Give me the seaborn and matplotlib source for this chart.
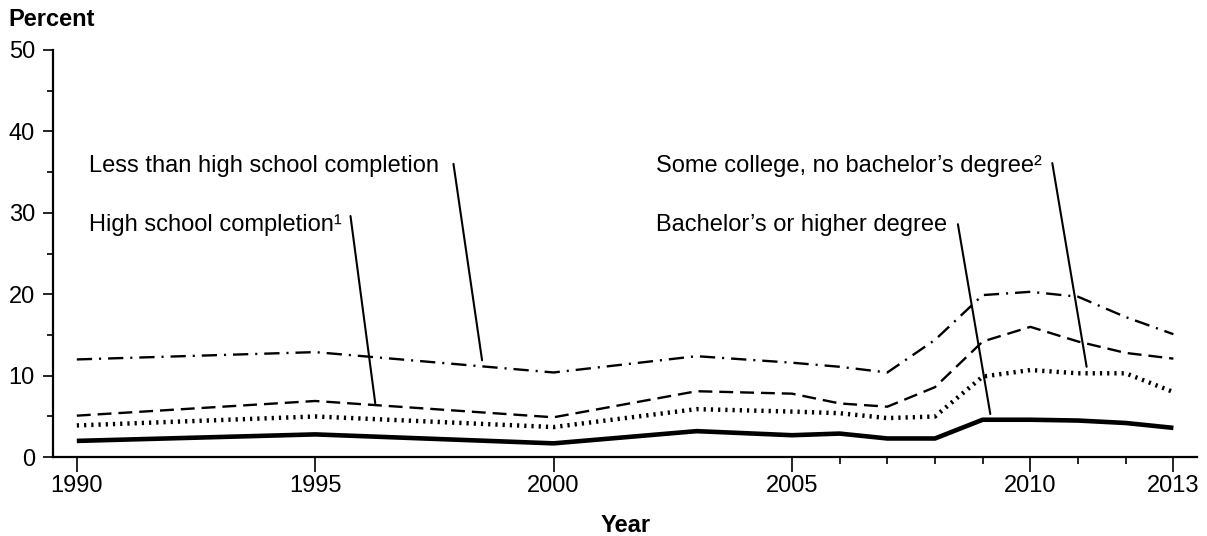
import matplotlib
matplotlib.use("Agg")
import matplotlib.pyplot as plt
import numpy as np
import pandas as pd
import seaborn as sns
from matplotlib.ticker import MultipleLocator, FixedLocator

years = [1990, 1995, 2000, 2003, 2005, 2006, 2007, 2008, 2009, 2010, 2011, 2012, 2013]
less_than_hs = [12.0, 12.9, 10.4, 12.4, 11.6, 11.1, 10.4, 14.4, 19.9, 20.3, 19.7, 17.2, 15.1]
some_college = [5.1, 6.9, 4.9, 8.1, 7.8, 6.6, 6.2, 8.6, 14.2, 16.0, 14.2, 12.8, 12.1]
hs_completion = [3.9, 5.0, 3.7, 5.9, 5.6, 5.4, 4.8, 5.0, 9.9, 10.7, 10.3, 10.3, 8.0]
bachelors = [2.0, 2.8, 1.7, 3.2, 2.7, 2.9, 2.3, 2.3, 4.6, 4.6, 4.5, 4.2, 3.6]

major_xticks = [1990, 1995, 2000, 2005, 2010, 2013]
minor_xticks = [2006, 2007, 2008, 2009, 2011, 2012]

sns.set_theme(style="ticks")
plt.rcParams["font.family"] = ["Liberation Sans", "DejaVu Sans"]
plt.rcParams["lines.scale_dashes"] = False
plt.rcParams["text.color"] = "black"
plt.rcParams["xtick.labelcolor"] = "black"
plt.rcParams["ytick.labelcolor"] = "black"

fig = plt.figure(figsize=(12.07, 5.36), dpi=100)
ax = fig.add_axes([0.0439, 0.147, 0.948, 0.76])

series = [
    (less_than_hs, 1.7, (0, (11, 5, 1.5, 5))),
    (some_college, 1.7, (0, (10, 5))),
    (hs_completion, 3.2, (0, (1.6, 3.6))),
    (bachelors, 3.3, "-"),
]
for vals, lw, ls in series:
    df = pd.DataFrame({"year": years, "value": vals})
    sns.lineplot(data=df, x="year", y="value", ax=ax, color="black",
                 linewidth=lw, linestyle=ls, solid_capstyle="butt")

ax.set_xlim(1989.5, 2013.5)
ax.set_ylim(0, 50)
sns.despine(ax=ax)
for side in ["left", "bottom"]:
    ax.spines[side].set_linewidth(1.6)
    ax.spines[side].set_color("black")

ax.xaxis.set_major_locator(FixedLocator(major_xticks))
ax.xaxis.set_minor_locator(FixedLocator(minor_xticks))
ax.yaxis.set_major_locator(MultipleLocator(10))
ax.yaxis.set_minor_locator(MultipleLocator(5))
ax.tick_params(axis="x", which="major", length=11, width=1.2, labelsize=17, pad=1.5, color="black")
ax.tick_params(axis="x", which="minor", length=5, width=1.2, color="black")
ax.tick_params(axis="y", which="major", length=7, width=1.2, labelsize=17, pad=6, color="black")
ax.tick_params(axis="y", which="minor", length=4, width=1.2, color="black")
ax.set_xlabel("")
ax.set_ylabel("")

fig.text(0.0066, 0.9515, "Percent", fontsize=17, fontweight="bold", va="baseline", ha="left")
fig.text(0.5187, 0.0075, "Year", fontsize=17, fontweight="bold", va="baseline", ha="center")

# series labels with leader lines
labels = [
    ("Less than high school completion", 1990.25, 35.0, (1997.9, 36.0), (1998.5, 11.9)),
    ("High school completion\u00b9", 1990.25, 27.8, (1995.74, 29.6), (1996.26, 6.6)),
    ("Some college, no bachelor\u2019s degree\u00b2", 2002.14, 35.0, (2010.46, 36.1), (2011.18, 11.1)),
    ("Bachelor\u2019s or higher degree", 2002.14, 27.8, (2008.48, 28.6), (2009.16, 5.3)),
]
for text, tx, ty, p0, p1 in labels:
    ax.text(tx, ty, text, fontsize=17, va="baseline", ha="left", color="black")
    ax.plot([p0[0], p1[0]], [p0[1], p1[1]], color="black", linewidth=1.5)

fig.savefig("out.png", dpi=100)
